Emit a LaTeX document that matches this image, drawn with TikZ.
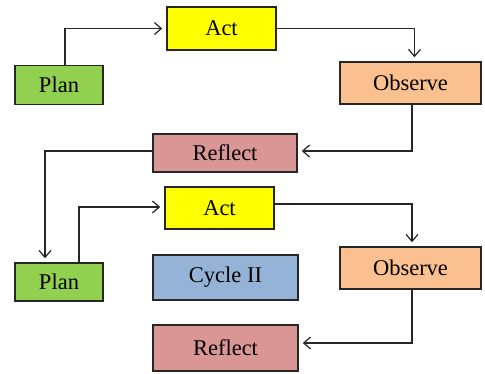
\documentclass[tikz,border=0pt]{standalone}
\usepackage{fontspec}
\setmainfont{Liberation Serif}
\usetikzlibrary{arrows.meta}
\definecolor{cplan}{HTML}{92D050}
\definecolor{cact}{HTML}{FFFF00}
\definecolor{cobs}{HTML}{FAC090}
\definecolor{cref}{HTML}{D99694}
\definecolor{ccyc}{HTML}{95B3D7}
\definecolor{cedge}{HTML}{262626}
\begin{document}
\begin{tikzpicture}[x=1pt,y=-1pt,
  box/.style={draw=cedge,line width=1.5pt,inner sep=0pt,font=\fontsize{22.5}{26}\selectfont,text=black},
  arr/.style={draw=cedge,line width=1.2pt,-{Straight Barb[length=7pt,width=12pt,line width=1.2pt]},shorten >=4pt}]
\useasboundingbox (0,0) rectangle (485,373);
\node[box,fill=cplan,minimum width=88,minimum height=39] (plan1) at (59,85) {Plan};
\node[box,fill=cact,minimum width=109,minimum height=43] (act1) at (221.5,28.5) {Act};
\node[box,fill=cobs,minimum width=141,minimum height=42] (obs1) at (410.5,83) {Observe};
\node[box,fill=cref,minimum width=144,minimum height=38] (ref1) at (225,153) {Reflect};
\node[box,fill=cplan,minimum width=88,minimum height=38] (plan2) at (59,282) {Plan};
\node[box,fill=cact,minimum width=109,minimum height=42] (act2) at (219.5,208) {Act};
\node[box,fill=ccyc,minimum width=145,minimum height=45] (cyc) at (225.5,277.5) {Cycle II};
\node[box,fill=cobs,minimum width=141,minimum height=42] (obs2) at (410.5,268) {Observe};
\node[box,fill=cref,minimum width=145,minimum height=46] (ref2) at (225.5,348) {Reflect};
\draw[arr] ([xshift=6]plan1.north) |- (act1.west);
\draw[arr] (act1.east) -| ([xshift=4]obs1.north);
\draw[arr] ([xshift=1.5]obs1.south) |- ([yshift=2]ref1.east);
\draw[arr] ([yshift=2]ref1.west) -| ([xshift=-14]plan2.north);
\draw[arr] ([xshift=20]plan2.north) |- ([yshift=1]act2.west);
\draw[arr] ([yshift=4]act2.east) -| ([xshift=1.5]obs2.north);
\draw[arr] ([xshift=1.5]obs2.south) |- ([yshift=5]ref2.east);
\end{tikzpicture}
\end{document}
